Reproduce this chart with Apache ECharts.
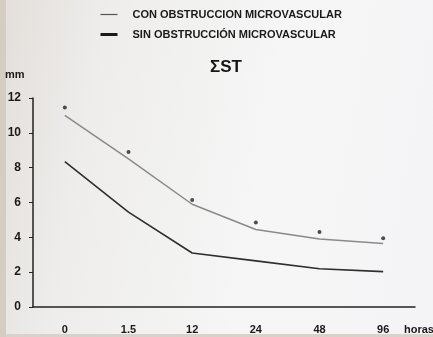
<!DOCTYPE html>
<html>
<head>
<meta charset="utf-8">
<script src="https://cdn.jsdelivr.net/npm/echarts@6/dist/echarts.min.js"></script>
<style>
  html, body { margin: 0; padding: 0; }
  #chart { position: absolute; left: 0; top: 0; width: 433px; height: 337px;
           background:
             linear-gradient(to right, #d6cdc2 0, #d6cdc2 6px, transparent 6px),
             linear-gradient(to top, #d9d2ca 0, #d9d2ca 3px, transparent 3px),
             linear-gradient(100deg, #e3ded9 0%, #eeedec 22%, #f6f6f6 60%, #f4f4f6 100%); }
</style>
</head>
<body>
<div id="chart"></div>
<script>
// Hours after reperfusion
const categories = ['0', '1.5', '12', '24', '48', '96'];
// Sum of ST elevation (mm)
const conObstruccion = [11.0, 8.5, 5.9, 4.45, 3.9, 3.65];
const sinObstruccion = [8.35, 5.45, 3.1, 2.65, 2.2, 2.03];
// Significance markers above the upper curve
const significancia = [11.45, 8.9, 6.15, 4.85, 4.3, 3.95];
const yTicks = { min: 0, max: 12, interval: 2 };

const nombreCon = 'CON OBSTRUCCION MICROVASCULAR';
const nombreSin = 'SIN OBSTRUCCIÓN MICROVASCULAR';

const chart = echarts.init(document.getElementById('chart'));
const font = 'Liberation Sans, Arial, sans-serif';

chart.setOption({
  backgroundColor: 'transparent',
  animation: false,
  title: {
    text: 'ΣST',
    left: 205, top: 54,
    textStyle: { fontFamily: font, fontWeight: 'bold', fontSize: 17, color: '#151515' }
  },
  legend: {
    data: [
      { name: nombreCon, lineStyle: { width: 1.2, color: '#555' }, itemStyle: { opacity: 0 } },
      { name: nombreSin, lineStyle: { width: 3, color: '#1a1a1a' }, itemStyle: { opacity: 0 } }
    ],
    orient: 'vertical',
    left: 94, top: 4,
    itemWidth: 17, itemHeight: 10, itemGap: 9,
    textStyle: { fontFamily: font, fontWeight: 'bold', fontSize: 11, color: '#1a1a1a', padding: [0, 0, 0, 10] }
  },
  grid: { left: 33, right: 18, top: 98, bottom: 30, outerBoundsMode: 'none' },
  xAxis: {
    type: 'category',
    data: categories,
    boundaryGap: true,
    axisLine: { lineStyle: { color: '#222', width: 1.5 } },
    axisTick: { show: false },
    axisLabel: { fontFamily: font, fontWeight: 'bold', fontSize: 11, color: '#1a1a1a', margin: 17 }
  },
  yAxis: {
    type: 'value',
    min: yTicks.min, max: yTicks.max, interval: yTicks.interval,
    splitLine: { show: false },
    axisLine: { show: true, lineStyle: { color: '#222', width: 1.5 } },
    axisTick: { show: true, length: 4, lineStyle: { color: '#222' } },
    axisLabel: { fontFamily: font, fontWeight: 'bold', fontSize: 12, color: '#1a1a1a', margin: 12 }
  },
  graphic: [
    { type: 'text', left: 5, top: 69,
      style: { text: 'mm', fontFamily: font, fontWeight: 'bold', fontSize: 11, fill: '#1a1a1a' } },
    { type: 'text', left: 404, top: 324,
      style: { text: 'horas', fontFamily: font, fontWeight: 'bold', fontSize: 11, fill: '#1a1a1a' } }
  ],
  series: [
    {
      name: nombreCon, type: 'line', data: conObstruccion,
      symbol: 'none',
      lineStyle: { color: '#8a8a8a', width: 1.5 },
      itemStyle: { color: '#8a8a8a' }
    },
    {
      name: nombreSin, type: 'line', data: sinObstruccion,
      symbol: 'none',
      lineStyle: { color: '#2e2e2e', width: 1.6 },
      itemStyle: { color: '#2e2e2e' }
    },
    {
      name: 'p', type: 'scatter', data: significancia,
      symbol: 'circle', symbolSize: 4,
      itemStyle: { color: '#222' }
    }
  ]
});
</script>
</body>
</html>
